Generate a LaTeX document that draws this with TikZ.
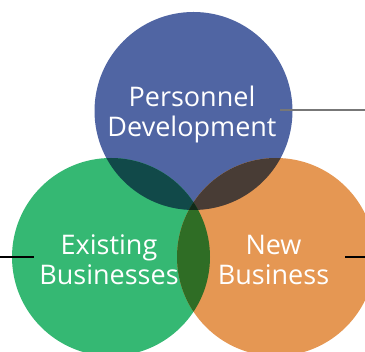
\documentclass[tikz,border=0pt]{standalone}
\usepackage{fontspec}
\setmainfont{Open Sans}
\definecolor{cblue}{HTML}{5065A3}
\definecolor{cgreen}{HTML}{35B873}
\definecolor{corange}{HTML}{E59753}
\definecolor{cbg}{HTML}{114949}
\definecolor{cbo}{HTML}{483C35}
\definecolor{cgo}{HTML}{2F6D25}
\definecolor{call}{HTML}{112B19}
\definecolor{lgray}{HTML}{777777}
\tikzset{
  lbl/.style={text=white, align=center, font=\fontsize{27}{30}\selectfont, inner sep=0pt},
  leader/.style={line width=1.2pt},
}
\begin{document}
\begin{tikzpicture}[x=1pt,y=1pt]
\useasboundingbox (0,0) rectangle (365,352);
\def\R{99}
\coordinate (cb) at (193.5,241);
\coordinate (cg) at (111,95);
\coordinate (co) at (276,95);
% circles
\fill[cblue] (cb) circle (\R);
\fill[cgreen] (cg) circle (\R);
\fill[corange] (co) circle (\R);
% pairwise overlaps
\begin{scope}
  \clip (cb) circle (\R);
  \fill[cbg] (cg) circle (\R);
  \fill[cbo] (co) circle (\R);
\end{scope}
\begin{scope}
  \clip (cg) circle (\R);
  \fill[cgo] (co) circle (\R);
  \clip (co) circle (\R);
  \fill[call] (cb) circle (\R);
\end{scope}
% labels
\node[lbl] (pd) at (192,238) {Personnel\\Development};
\node[lbl] (eb) at (109,92) {Existing\\Businesses};
\node[lbl] (nb) at (273.5,92) {New\\Business};
% leaders
\coordinate (pd1) at (280,242);
\coordinate (pd2) at (365,242);
\coordinate (eb1) at (0,95);
\coordinate (eb2) at (34,95);
\coordinate (nb1) at (345,95);
\coordinate (nb2) at (365,95);
\draw[leader, lgray] (pd1) -- (pd2);
\draw[leader, black] (eb1) -- (eb2);
\draw[leader, black] (nb1) -- (nb2);
\end{tikzpicture}
\end{document}
